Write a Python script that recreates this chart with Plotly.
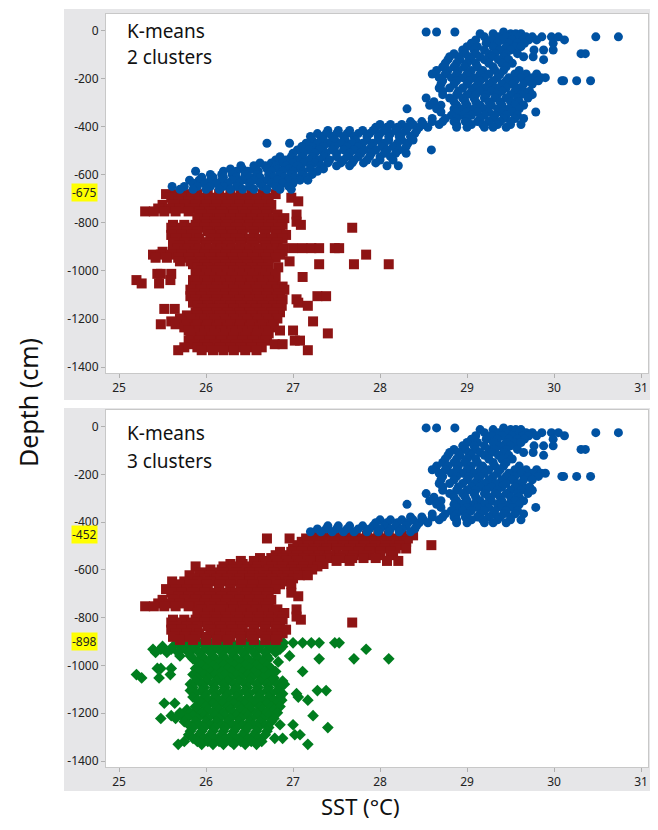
import plotly.graph_objects as go

# ---------------- axis ticks ----------------
sst_tickvals = [25, 26, 27, 28, 29, 30, 31]
sst_ticktext = ["25", "26", "27", "28", "29", "30", "31"]
depth_tickvals = [0, -200, -400, -600, -800, -1000, -1200, -1400]
depth_ticktext = ["0", "-200", "-400", "-600", "-800", "-1000", "-1200", "-1400"]

# cluster boundaries highlighted on the depth axis
top_boundaries = [-675]
bottom_boundaries = [-452, -898]

# ---------------- data ----------------
# Zone A: depth 0 .. -452 cm
zoneA_depth = [-5, -12, -25, -38, -52, -66, -80, -95, -108, -120, -135, -150, -165, -180,
               -195, -208, -222, -238, -252, -266, -280, -295, -310, -325, -338, -352,
               -365, -378, -390, -402, -415, -428, -440]
zoneA_sst = [
    [28.53, 28.65, 28.86, 29.42],
    [29.15, 29.3, 29.5, 29.56, 29.62],
    [29.2, 29.36, 29.45, 29.6, 29.68, 29.75, 29.86, 29.97, 30.05, 30.48, 30.74],
    [29.1, 29.28, 29.4, 29.52, 29.64, 29.71, 29.8, 30.12],
    [29.05, 29.22, 29.35, 29.48, 29.58, 29.66, 29.99],
    [29.0, 29.12, 29.3, 29.45, 29.55, 29.62],
    [28.95, 29.08, 29.2, 29.38, 29.5, 29.77, 29.88, 29.99],
    [28.85, 28.98, 29.1, 29.25, 29.32, 29.45, 29.58, 30.31, 30.36],
    [28.8, 28.9, 29.02, 29.15, 29.28, 29.42, 29.65, 29.76],
    [28.78, 28.92, 29.05, 29.2, 29.36, 29.48, 29.88],
    [28.75, 28.88, 29.0, 29.1, 29.25, 29.4, 29.52],
    [28.72, 28.85, 28.97, 29.12, 29.3, 29.45],
    [28.65, 28.78, 28.9, 29.05, 29.18, 29.32, 29.42, 29.6],
    [28.6, 28.75, 28.88, 29.0, 29.15, 29.25, 29.38, 29.55, 29.68, 29.8],
    [28.68, 28.82, 28.95, 29.08, 29.2, 29.35, 29.48, 29.62, 29.75, 29.85, 29.9],
    [28.72, 28.88, 29.02, 29.15, 29.3, 29.45, 29.55, 29.7, 29.82, 30.09, 30.11, 30.26, 30.42],
    [28.7, 28.85, 29.0, 29.12, 29.25, 29.4, 29.52, 29.65, 29.75],
    [28.68, 28.8, 28.95, 29.08, 29.2, 29.33, 29.45, 29.58],
    [28.72, 28.9, 29.05, 29.15, 29.28, 29.4, 29.55, 29.65, 29.72],
    [28.72, 28.88, 29.0, 29.1, 29.22, 29.35, 29.5, 29.62, 29.75],
    [28.53, 28.8, 28.95, 29.08, 29.2, 29.32, 29.45, 29.58, 29.7],
    [28.62, 28.85, 28.98, 29.1, 29.25, 29.38, 29.5, 29.6],
    [28.57, 28.7, 28.88, 29.0, 29.15, 29.28, 29.4, 29.55, 29.65],
    [28.31, 28.65, 28.85, 28.95, 29.08, 29.2, 29.35, 29.48, 29.6],
    [28.7, 28.88, 29.0, 29.12, 29.25, 29.4, 29.52, 29.79],
    [28.82, 28.95, 29.05, 29.2, 29.32, 29.45, 29.58],
    [28.6, 28.75, 28.88, 29.0, 29.15, 29.3, 29.42, 29.55, 29.65],
    [28.35, 28.48, 28.6, 28.72, 28.85, 28.98, 29.12, 29.25, 29.38, 29.5],
    [28.0, 28.12, 28.25, 28.38, 28.5, 28.68, 28.88, 29.05, 29.18, 29.35, 29.5, 29.62],
    [27.95, 28.08, 28.2, 28.32, 28.45, 28.55, 28.88, 29.0, 29.2, 29.3, 29.45],
    [27.4, 27.52, 27.65, 27.8, 27.92, 28.05, 28.18, 28.3, 28.42],
    [27.28, 27.38, 27.5, 27.62, 27.75, 27.88, 28.0, 28.12, 28.25, 28.4],
    [27.2, 27.32, 27.45, 27.58, 27.7, 27.85, 27.98, 28.1, 28.22, 28.35],
]

# Zone B: depth -452 .. -675 cm
zoneB_depth = [-455, -468, -482, -496, -510, -524, -538, -550, -562, -575, -585, -598,
               -610, -622, -635, -648, -660]
zoneB_sst = [
    [27.22, 27.35, 27.48, 27.6, 27.72, 27.85, 27.98, 28.1, 28.25, 28.38],
    [26.7, 26.96, 27.15, 27.28, 27.4, 27.55, 27.68, 27.8, 27.92, 28.05, 28.2, 28.32],
    [27.1, 27.22, 27.35, 27.48, 27.62, 27.75, 27.9, 28.02, 28.15, 28.3],
    [27.05, 27.18, 27.3, 27.45, 27.58, 27.7, 27.82, 27.95, 28.08, 28.22, 28.59],
    [27.0, 27.12, 27.25, 27.38, 27.5, 27.65, 27.78, 27.9, 28.05, 28.18, 28.3],
    [26.85, 26.98, 27.1, 27.22, 27.35, 27.5, 27.62, 27.75, 27.88, 28.0, 28.12],
    [26.8, 26.92, 27.05, 27.18, 27.3, 27.42, 27.58, 27.7, 27.85, 28.0, 28.15],
    [26.62, 26.75, 26.88, 27.0, 27.12, 27.25, 27.4, 27.55, 27.68, 27.81, 27.95],
    [26.4, 26.55, 26.68, 26.8, 26.92, 27.05, 27.2, 27.32, 27.5, 27.65, 28.08, 28.21],
    [26.28, 26.42, 26.55, 26.7, 26.82, 26.95, 27.08, 27.2, 27.35],
    [25.88, 26.2, 26.35, 26.48, 26.6, 26.75, 26.88, 27.0, 27.12, 27.28],
    [26.05, 26.18, 26.3, 26.45, 26.58, 26.72, 26.85, 26.98, 27.1, 27.22],
    [25.95, 26.08, 26.2, 26.35, 26.5, 26.62, 26.78, 26.9, 27.02, 27.15],
    [25.81, 25.92, 26.05, 26.18, 26.3, 26.42, 26.55, 26.7, 26.82, 26.95, 27.08, 27.17],
    [25.85, 25.98, 26.12, 26.25, 26.38, 26.5, 26.62, 26.75, 26.88, 27.0],
    [25.61, 25.75, 25.9, 26.05, 26.2, 26.35, 26.5, 26.65, 26.8, 26.95],
    [25.7, 25.85, 26.0, 26.15, 26.28, 26.42, 26.55, 26.7, 26.85, 26.98],
]

# Zone C: depth -675 .. -898 cm
zoneC_depth = [-680, -695, -710, -725, -740, -752, -765, -780, -795, -808, -820, -835,
               -850, -865, -880, -893]
zoneC_sst = [
    [25.54, 25.65, 25.78, 25.9, 26.02, 26.15, 26.28, 26.4, 26.52, 26.65, 26.8],
    [25.6, 25.72, 25.85, 25.98, 26.1, 26.22, 26.35, 26.48, 26.6, 26.72, 26.98],
    [25.68, 25.8, 25.92, 26.05, 26.18, 26.3, 26.45, 26.58, 26.7, 27.06],
    [25.5, 25.62, 25.75, 25.88, 26.0, 26.12, 26.25, 26.38, 26.5, 26.62, 26.75],
    [25.45, 25.58, 25.7, 25.85, 25.98, 26.1, 26.22, 26.35, 26.48, 26.6, 26.72],
    [25.3, 25.4, 25.52, 25.65, 25.8, 25.92, 26.05, 26.18, 26.3, 26.42, 26.55, 26.68],
    [25.95, 26.08, 26.2, 26.32, 26.45, 26.58, 26.7, 26.82, 27.04],
    [25.9, 26.02, 26.15, 26.28, 26.4, 26.52, 26.65, 26.78, 26.9],
    [25.98, 26.1, 26.22, 26.35, 26.48, 26.6, 26.72, 26.85, 27.04],
    [25.62, 25.75, 25.88, 26.0, 26.12, 26.25, 26.38, 26.5, 26.62, 26.75, 26.88, 27.09],
    [25.6, 25.72, 25.85, 25.98, 26.1, 26.22, 26.35, 26.48, 26.6, 26.72, 26.85, 27.68],
    [25.62, 25.78, 25.9, 26.02, 26.15, 26.28, 26.4, 26.55, 26.68, 26.8],
    [25.6, 25.72, 25.85, 26.05, 26.18, 26.3, 26.42, 26.55, 26.68, 26.82, 26.92],
    [25.65, 25.78, 25.92, 26.1, 26.22, 26.35, 26.5, 26.62, 26.75, 26.88],
    [25.62, 25.75, 25.88, 26.0, 26.15, 26.28, 26.4, 26.52, 26.7, 26.82],
    [25.7, 25.85, 26.0, 26.12, 26.25, 26.4, 26.55, 26.68, 26.8],
]

# Zone D: depth -898 .. -1335 cm
zoneD_depth = [-905, -920, -932, -945, -960, -972, -985, -998, -1012, -1025, -1038, -1052,
               -1065, -1078, -1092, -1105, -1118, -1132, -1145, -1158, -1172, -1185, -1198,
               -1210, -1222, -1235, -1248, -1260, -1275, -1290, -1305, -1318, -1330]
zoneD_sst = [
    [25.67, 25.8, 25.92, 26.05, 26.18, 26.3, 26.45, 26.58, 26.7, 26.82, 26.89, 27.0, 27.11, 27.21, 27.3, 27.48, 27.53],
    [25.5, 25.62, 25.75, 25.88, 26.0, 26.12, 26.25, 26.38, 26.5, 26.62, 26.75, 26.88],
    [25.39, 25.48, 25.6, 25.72, 25.85, 25.98, 26.1, 26.22, 26.35, 26.48, 26.6, 26.72, 26.85, 27.84],
    [25.42, 25.55, 25.68, 25.8, 25.92, 26.05, 26.18, 26.3, 26.42, 26.55, 26.68, 26.8],
    [25.7, 25.82, 25.95, 26.08, 26.2, 26.32, 26.45, 26.58, 26.7, 26.96],
    [25.85, 25.98, 26.1, 26.22, 26.35, 26.48, 26.6, 26.72, 27.3, 27.7, 28.1],
    [25.9, 26.02, 26.15, 26.28, 26.4, 26.52, 26.65, 26.83],
    [25.95, 26.08, 26.2, 26.32, 26.45, 26.58, 26.7],
    [25.44, 25.48, 25.6, 25.88, 26.0, 26.12, 26.25, 26.38, 26.5, 26.62, 26.75],
    [25.92, 26.05, 26.18, 26.3, 26.42, 26.55, 26.68, 26.8, 27.11],
    [25.2, 25.59, 25.85, 25.98, 26.1, 26.22, 26.35, 26.48, 26.6, 26.72],
    [25.26, 25.46, 25.9, 26.02, 26.15, 26.28, 26.4, 26.52, 26.65, 26.78],
    [25.88, 26.0, 26.12, 26.25, 26.38, 26.5, 26.62, 26.75, 26.88],
    [25.82, 25.95, 26.08, 26.2, 26.32, 26.45, 26.58, 26.7, 26.82, 26.9],
    [25.85, 25.98, 26.1, 26.22, 26.35, 26.48, 26.6, 26.72, 26.85],
    [25.82, 25.95, 26.08, 26.2, 26.32, 26.45, 26.58, 26.7, 26.82, 27.28, 27.38],
    [25.88, 26.0, 26.12, 26.25, 26.38, 26.5, 26.62, 26.75, 26.88, 27.04],
    [25.85, 25.98, 26.1, 26.22, 26.35, 26.48, 26.6, 26.72, 26.85, 27.06],
    [25.9, 26.02, 26.15, 26.28, 26.4, 26.52, 26.65, 26.78, 26.87, 27.17],
    [25.52, 25.64, 25.95, 26.08, 26.2, 26.32, 26.45, 26.58, 26.7, 26.82],
    [25.88, 26.0, 26.12, 26.25, 26.38, 26.5, 26.62, 26.75, 26.85],
    [25.78, 25.9, 26.02, 26.15, 26.28, 26.4, 26.52, 26.65, 26.78],
    [25.7, 25.82, 25.95, 26.08, 26.2, 26.32, 26.45, 26.58, 26.7, 26.82],
    [25.6, 25.72, 25.85, 25.98, 26.1, 26.22, 26.35, 26.48, 26.6, 26.72, 27.23],
    [25.48, 25.65, 25.78, 25.9, 26.02, 26.15, 26.28, 26.4, 26.52, 26.65, 26.78],
    [25.75, 25.88, 26.0, 26.12, 26.25, 26.38, 26.5, 26.62, 26.75],
    [25.8, 25.92, 26.05, 26.18, 26.3, 26.42, 26.55, 26.68, 26.85, 27.0],
    [25.85, 25.98, 26.1, 26.22, 26.35, 26.48, 26.6, 26.72, 27.4],
    [25.82, 25.95, 26.08, 26.2, 26.32, 26.45, 26.58, 26.7],
    [25.8, 25.92, 26.05, 26.18, 26.3, 26.42, 26.55, 26.68, 27.02, 27.08],
    [25.85, 25.98, 26.1, 26.22, 26.35, 26.48, 26.6, 26.79, 26.88],
    [25.75, 25.9, 26.02, 26.15, 26.28, 26.4, 26.52, 26.64],
    [25.68, 25.95, 26.08, 26.2, 26.32, 26.45, 26.58, 27.17],
]


def flatten(depths, ssts):
    xs, ys = [], []
    for d, row in zip(depths, ssts):
        for s in row:
            xs.append(s)
            ys.append(d)
    return xs, ys


Ax, Ay = flatten(zoneA_depth, zoneA_sst)
Bx, By = flatten(zoneB_depth, zoneB_sst)
Cx, Cy = flatten(zoneC_depth, zoneC_sst)
Dx, Dy = flatten(zoneD_depth, zoneD_sst)

BLUE = "#0052A2"
RED = "#8E1414"
GREEN = "#007D1E"
FONT = "Noto Sans"

fig = go.Figure()

# top panel: 2 clusters
fig.add_trace(go.Scatter(x=Cx + Dx, y=Cy + Dy, mode="markers", xaxis="x", yaxis="y",
                         marker=dict(symbol="square", size=10, color=RED, line=dict(width=0))))
fig.add_trace(go.Scatter(x=Ax + Bx, y=Ay + By, mode="markers", xaxis="x", yaxis="y",
                         marker=dict(symbol="circle", size=9, color=BLUE, line=dict(width=0))))

# bottom panel: 3 clusters
fig.add_trace(go.Scatter(x=Dx, y=Dy, mode="markers", xaxis="x2", yaxis="y2",
                         marker=dict(symbol="diamond", size=9, color=GREEN, line=dict(width=0))))
fig.add_trace(go.Scatter(x=Bx + Cx, y=By + Cy, mode="markers", xaxis="x2", yaxis="y2",
                         marker=dict(symbol="square", size=10, color=RED, line=dict(width=0))))
fig.add_trace(go.Scatter(x=Ax, y=Ay, mode="markers", xaxis="x2", yaxis="y2",
                         marker=dict(symbol="circle", size=9, color=BLUE, line=dict(width=0))))

xrange = [24.85, 31.08]
yrange = [-1425, 70]

axis_common = dict(showgrid=False, zeroline=False, showline=True, linecolor="#C8C8C8",
                   linewidth=1, mirror=True, ticks="outside", ticklen=4, tickcolor="#B0B0B0",
                   tickfont=dict(family=FONT, size=12, color="#222222"))

# the page adds an 8px body margin; size the figure so it fits the visible window
fig.update_layout(
    width=642, height=814,
    margin=dict(l=98, r=2, t=6, b=55),
    paper_bgcolor="white", plot_bgcolor="white",
    showlegend=False,
    font=dict(family=FONT, color="#111111"),
    xaxis=dict(domain=[0, 1], anchor="y", range=xrange, tickvals=sst_tickvals,
               ticktext=sst_ticktext, **axis_common),
    yaxis=dict(domain=[0.5232, 1], anchor="x", range=yrange, tickvals=depth_tickvals,
               ticktext=depth_ticktext, **axis_common),
    xaxis2=dict(domain=[0, 1], anchor="y2", range=xrange, tickvals=sst_tickvals,
                ticktext=sst_ticktext, **axis_common),
    yaxis2=dict(domain=[0, 0.4741], anchor="x2", range=yrange, tickvals=depth_tickvals,
                ticktext=depth_ticktext, **axis_common),
)

# gray panel backgrounds
fig.add_shape(type="rect", xref="paper", yref="paper", x0=-0.0775, x1=1.004, y0=0.4874, y1=1.0066,
              fillcolor="#E6E6E8", line=dict(width=0), layer="below")
fig.add_shape(type="rect", xref="paper", yref="paper", x0=-0.0775, x1=1.004, y0=-0.0319, y1=0.4768,
              fillcolor="#E6E6E8", line=dict(width=0), layer="below")
# white plot areas over the gray
fig.add_shape(type="rect", xref="x domain", yref="y domain", x0=0, x1=1, y0=0, y1=1,
              fillcolor="white", line=dict(width=0), layer="below")
fig.add_shape(type="rect", xref="x2 domain", yref="y2 domain", x0=0, x1=1, y0=0, y1=1,
              fillcolor="white", line=dict(width=0), layer="below")

ann = []
ann.append(dict(text="K-means", xref="x domain", yref="y domain", x=0.035, y=0.9526,
                xanchor="left", yanchor="middle", showarrow=False,
                font=dict(family=FONT, size=19, color="#111111")))
ann.append(dict(text="2 clusters", xref="x domain", yref="y domain", x=0.035, y=0.880,
                xanchor="left", yanchor="middle", showarrow=False,
                font=dict(family=FONT, size=19, color="#111111")))
ann.append(dict(text="K-means", xref="x2 domain", yref="y2 domain", x=0.035, y=0.9356,
                xanchor="left", yanchor="middle", showarrow=False,
                font=dict(family=FONT, size=19, color="#111111")))
ann.append(dict(text="3 clusters", xref="x2 domain", yref="y2 domain", x=0.035, y=0.858,
                xanchor="left", yanchor="middle", showarrow=False,
                font=dict(family=FONT, size=19, color="#111111")))

for v in top_boundaries:
    ann.append(dict(text=str(v), xref="x domain", yref="y", x=0, y=v, xanchor="right",
                    yanchor="middle", xshift=-8, showarrow=False, bgcolor="#FFFF00", borderpad=0,
                    font=dict(family=FONT, size=12, color="#222222")))
for v in bottom_boundaries:
    ann.append(dict(text=str(v), xref="x2 domain", yref="y2", x=0, y=v, xanchor="right",
                    yanchor="middle", xshift=-8, showarrow=False, bgcolor="#FFFF00", borderpad=0,
                    font=dict(family=FONT, size=12, color="#222222")))

ann.append(dict(text="Depth (cm)", xref="paper", yref="paper", x=-0.144, y=0.4847,
                xanchor="center", yanchor="middle", textangle=-90, showarrow=False,
                font=dict(family=FONT, size=25, color="#111111")))
ann.append(dict(text="SST (°C)", xref="paper", yref="paper", x=0.47, y=-0.0518,
                xanchor="center", yanchor="middle", showarrow=False,
                font=dict(family=FONT, size=22, color="#111111")))

fig.update_layout(annotations=ann)

fig.write_html("out.html")
